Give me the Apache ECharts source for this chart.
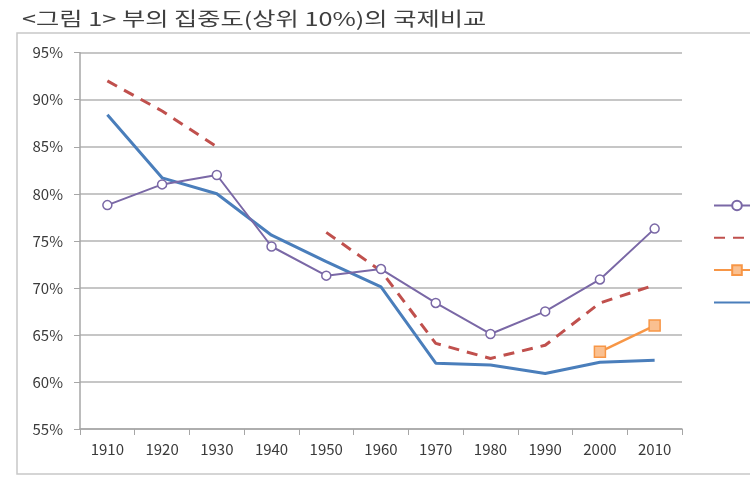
<!DOCTYPE html>
<html>
<head>
<meta charset="utf-8">
<script src="https://cdn.jsdelivr.net/npm/echarts@6/dist/echarts.min.js"></script>
<style>html,body{margin:0;padding:0;background:#fff;}#c{width:750px;height:495px;}</style>
</head>
<body>
<div id="c"></div>
<script>
const titleText = '<그림 1> 부의 집중도(상위 10%)의 국제비교';
const years = ['1910','1920','1930','1940','1950','1960','1970','1980','1990','2000','2010'];
const seriesNames = ['미국', '영국', '한국', '유럽'];
const usa = [78.8, 81.0, 82.0, 74.4, 71.3, 72.0, 68.4, 65.1, 67.5, 70.9, 76.3];
const uk = [92.0, 88.8, 85.0, null, 75.9, 71.8, 64.1, 62.5, 63.9, 68.4, 70.3];
const korea = [null, null, null, null, null, null, null, null, null, 63.2, 66.0];
const europe = [88.4, 81.7, 80.0, 75.6, 72.8, 70.1, 62.0, 61.8, 60.9, 62.1, 62.3];
const yTicks = [55, 60, 65, 70, 75, 80, 85, 90, 95];

const chart = echarts.init(document.getElementById('c'), null, {renderer: 'canvas'});
const font = '"Noto Sans CJK KR", "Noto Sans", sans-serif';
const hideSym = {color: 'rgba(0,0,0,0)', borderColor: 'rgba(0,0,0,0)', borderWidth: 0};
chart.setOption({
  animation: false,
  backgroundColor: '#fff',
  graphic: [
    {type: 'rect', shape: {x: 17, y: 33, width: 760, height: 441}, style: {fill: 'none', stroke: '#c8c8c8', lineWidth: 1.5}, z: -1},
    {type: 'text', x: 22, y: 19, scaleX: 1.33, style: {text: titleText, font: '19px ' + font, fill: '#404040', verticalAlign: 'middle', textVerticalAlign: 'middle'}}
  ],
  grid: {left: 80, right: 68, top: 52.7, bottom: 66, containLabel: false},
  legend: {
    orient: 'vertical', left: 708, top: 194, itemWidth: 46, itemHeight: 12, itemGap: 19.3,
    textStyle: {fontFamily: font, fontSize: 13, color: '#404040'},
    data: [
      {name: seriesNames[0]},
      {name: seriesNames[1], itemStyle: hideSym},
      {name: seriesNames[2]},
      {name: seriesNames[3], itemStyle: hideSym}
    ]
  },
  xAxis: {
    type: 'category', data: years, boundaryGap: true,
    axisLine: {lineStyle: {color: '#a6a6a6', width: 1.5}},
    axisTick: {show: true, length: 6, lineStyle: {color: '#a6a6a6'}},
    axisLabel: {color: '#3a3a3a', fontSize: 15, fontFamily: font, margin: 13}
  },
  yAxis: {
    type: 'value', min: yTicks[0], max: yTicks[yTicks.length - 1], interval: 5,
    axisLine: {show: true, lineStyle: {color: '#a6a6a6', width: 1.5}},
    axisTick: {show: true, length: 6, lineStyle: {color: '#a6a6a6'}},
    splitLine: {lineStyle: {color: '#b3b3b3', width: 1.5}},
    axisLabel: {color: '#3a3a3a', fontSize: 15, fontFamily: font, margin: 17, formatter: v => v + '%'}
  },
  series: [
    {name: seriesNames[0], type: 'line', data: usa, symbol: 'circle', symbolSize: 9,
     lineStyle: {color: '#7a68a6', width: 2}, itemStyle: {color: '#fff', borderColor: '#7a68a6', borderWidth: 1.5}, color: '#7a68a6', z: 4},
    {name: seriesNames[1], type: 'line', data: uk, symbol: 'none', connectNulls: false,
     lineStyle: {color: '#c0504d', width: 3, type: [11, 8]}, itemStyle: {color: '#c0504d'}, color: '#c0504d', z: 3},
    {name: seriesNames[2], type: 'line', data: korea, symbol: 'rect', symbolSize: 11,
     lineStyle: {color: '#f79646', width: 2.5}, itemStyle: {color: '#fac090', borderColor: '#f79646', borderWidth: 1.5}, color: '#f79646', z: 5},
    {name: seriesNames[3], type: 'line', data: europe, symbol: 'none',
     lineStyle: {color: '#4a7ebb', width: 3}, itemStyle: {color: '#4a7ebb'}, color: '#4a7ebb', z: 2}
  ]
});
</script>
</body>
</html>
